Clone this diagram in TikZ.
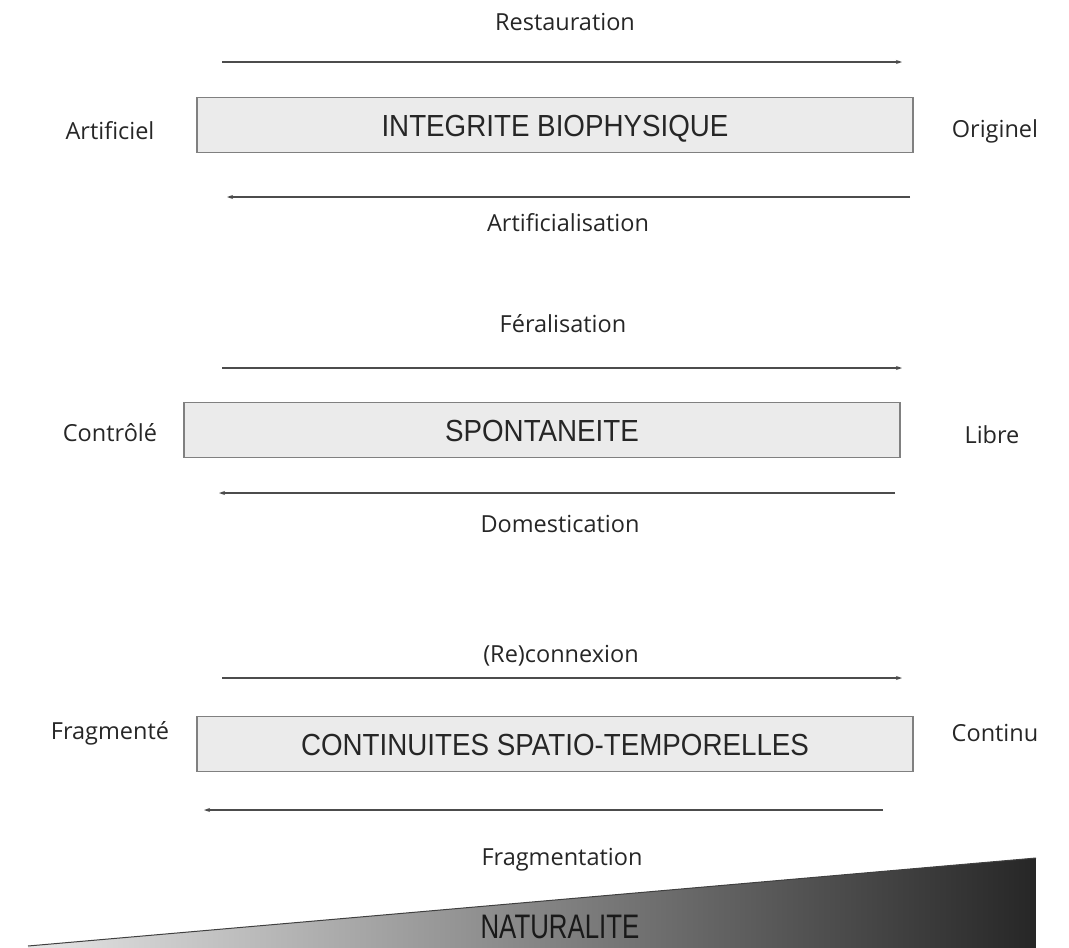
\documentclass[tikz,border=0pt]{standalone}
\usepackage{fontspec}
\setmainfont{Open Sans}
\newfontfamily\boxfont[FakeStretch=0.91]{Liberation Sans}
\newfontfamily\natfont[FakeStretch=0.76]{Liberation Sans}
\usetikzlibrary{arrows.meta, positioning}

\begin{document}
\begin{tikzpicture}[
	x=1pt, y=-1pt,
	etat/.style = {draw=black!50, line width=1.4pt, fill=black!8, minimum width=716pt, minimum height=55pt, inner sep=0pt, text height=22pt, text depth=0pt, font=\boxfont\fontsize{30.5}{32}\selectfont, text=black!85},
	pole/.style = {font=\fontsize{23.5}{26}\selectfont, text=black!85},
	processus/.style = {font=\fontsize{23.5}{26}\selectfont, text=black!85},
	fleche/.style = {-{Stealth[length=6pt, width=4pt]}, draw=black!70, line width=1.3pt}
]
\useasboundingbox (0,0) rectangle (1069,948);

% bloc 1
\node[etat] (integrite) at (555,125) {INTEGRITE BIOPHYSIQUE};
\node[pole] (artificiel) at (110,131) {Artificiel};
\node[pole] (originel) at (995,131) {Originel};
\node[processus] (restauration) at (565,22) {Restauration};
\node[processus] (artificialisation) at (568,223) {Artificialisation};
\coordinate (r1a) at (222,62);
\coordinate (r1b) at (902,62);
\coordinate (a1a) at (910,197);
\coordinate (a1b) at (227,197);
\draw[fleche] (r1a) -- (r1b);
\draw[fleche] (a1a) -- (a1b);

% bloc 2
\node[etat] (spontaneite) at (542,430) {SPONTANEITE};
\node[pole] (controle) at (110,433) {Contrôlé};
\node[pole] (libre) at (992,435) {Libre};
\node[processus] (feralisation) at (563,324) {Féralisation};
\node[processus] (domestication) at (560,524) {Domestication};
\coordinate (f2a) at (222,368);
\coordinate (f2b) at (902,368);
\coordinate (d2a) at (895,493);
\coordinate (d2b) at (219,493);
\draw[fleche] (f2a) -- (f2b);
\draw[fleche] (d2a) -- (d2b);

% bloc 3
\node[etat] (continuites) at (555,744) {CONTINUITES SPATIO-TEMPORELLES};
\node[pole] (fragmente) at (110,733) {Fragmenté};
\node[pole] (continu) at (995,733) {Continu};
\node[processus] (reconnexion) at (561,656) {(Re)connexion};
\node[processus] (fragmentation) at (562,860) {Fragmentation};
\coordinate (c3a) at (222,678);
\coordinate (c3b) at (902,678);
\coordinate (g3a) at (883,810);
\coordinate (g3b) at (204,810);
\draw[fleche] (c3a) -- (c3b);
\draw[fleche] (g3a) -- (g3b);

% naturalite
\shade[left color=black!10, right color=black!85] (28,946) -- (1036,858) -- (1036,948) -- (28,948) -- cycle;
\draw[black!75, line width=1pt] (28,946) -- (1036,858);
\node[font=\natfont\fontsize{34}{36}\selectfont, text height=25pt, text depth=0pt, inner sep=0pt, text=black!90] (naturalite) at (560,926) {NATURALITE};
\end{tikzpicture}
\end{document}
